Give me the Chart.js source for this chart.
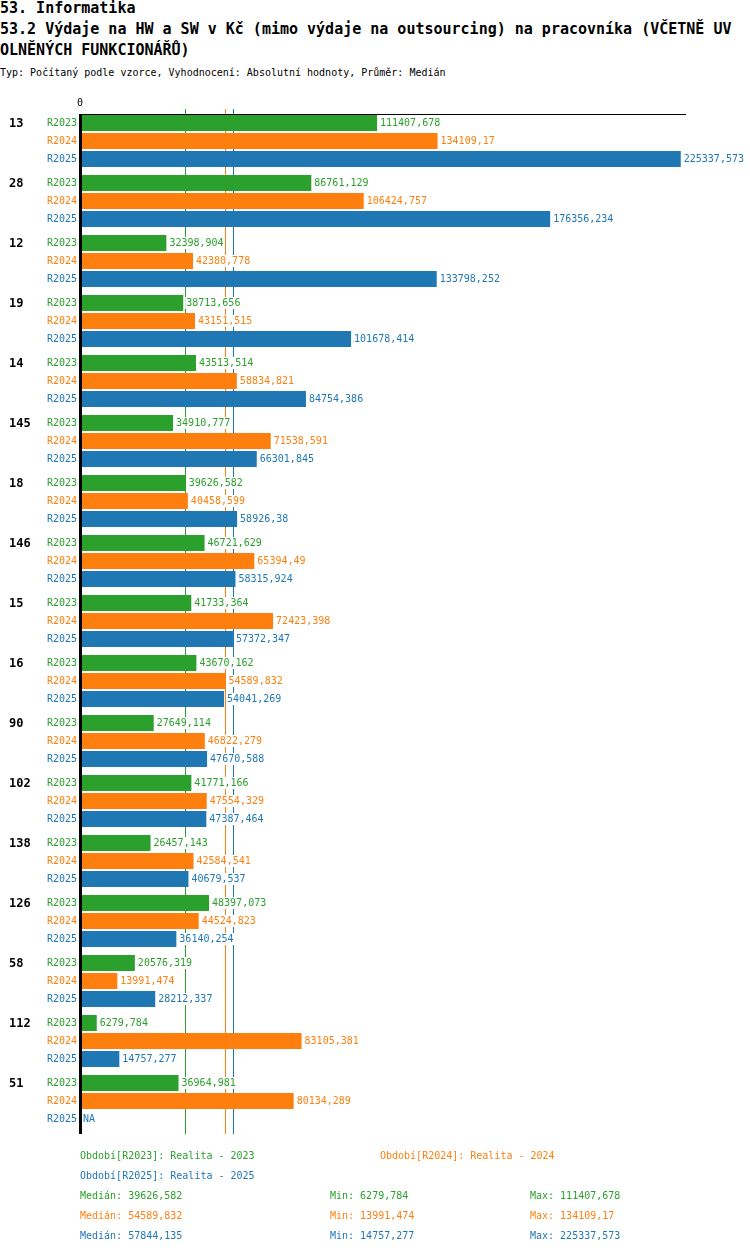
<!DOCTYPE html>
<html>
<head>
<meta charset="utf-8">
<script src="https://cdn.jsdelivr.net/npm/chart.js@4.4.1/dist/chart.umd.min.js"></script>
<style>
  html, body { margin: 0; padding: 0; background: #fff; }
  body { width: 750px; height: 1254px; position: relative; overflow: hidden; font-family: "DejaVu Sans Mono", monospace; color: #000; }
  #graf { position: absolute; left: 0; top: 0; }
  .titre { position: absolute; left: 0; font-size: 15px; font-weight: bold; line-height: 21px; white-space: pre; }
  .sous { position: absolute; left: 0; top: 67px; font-size: 10px; line-height: 12px; white-space: pre; }
  .pied { position: absolute; font-size: 10px; line-height: 12px; white-space: pre; }
</style>
</head>
<body>
<div class="titre" style="top:-2px">53. Informatika</div>
<div class="titre" style="top:19px">53.2 Výdaje na HW a SW v Kč (mimo výdaje na outsourcing) na pracovníka (VČETNĚ UV</div>
<div class="titre" style="top:40px">OLNĚNÝCH FUNKCIONÁŘŮ)</div>
<div class="sous">Typ: Počítaný podle vzorce, Vyhodnocení: Absolutní hodnoty, Průměr: Medián</div>
<canvas id="graf" width="750" height="1254"></canvas>
<div id="pied"></div>
<script>
// Données
const groupes = ['13', '28', '12', '19', '14', '145', '18', '146', '15', '16', '90', '102', '138', '126', '58', '112', '51'];
const series = ['R2023', 'R2024', 'R2025'];
const periodes = ['Realita - 2023', 'Realita - 2024', 'Realita - 2025'];
const couleurs = ['#2ca02c', '#ff7f0e', '#1f77b4'];

const r2023 = [111407.678, 86761.129, 32398.904, 38713.656, 43513.514, 34910.777, 39626.582, 46721.629, 41733.364, 43670.162, 27649.114, 41771.166, 26457.143, 48397.073, 20576.319, 6279.784, 36964.981];
const r2024 = [134109.17, 106424.757, 42380.778, 43151.515, 58834.821, 71538.591, 40458.599, 65394.49, 72423.398, 54589.832, 46822.279, 47554.329, 42584.541, 44524.823, 13991.474, 83105.381, 80134.289];
const r2025 = [225337.573, 176356.234, 133798.252, 101678.414, 84754.386, 66301.845, 58926.38, 58315.924, 57372.347, 54041.269, 47670.588, 47387.464, 40679.537, 36140.254, 28212.337, 14757.277, null];

const medianes = [39626.582, 54589.832, 57844.135];
const minima = [6279.784, 13991.474, 14757.277];
const maxima = [111407.678, 134109.17, 225337.573];

const axeMax = 227300;
const police = '"DejaVu Sans Mono", monospace';

function formatNombre(v) {
  if (v === null || v === undefined) return 'NA';
  return String(v).replace('.', ',');
}

// Lignes des médianes, axes et étiquettes
const decor = {
  id: 'decor',
  beforeDatasetsDraw(chart) {
    const { ctx, chartArea, scales: { x } } = chart;
    ctx.save();
    ctx.lineWidth = 1;
    medianes.forEach((m, i) => {
      const px = Math.round(x.getPixelForValue(m)) - 0.5;
      ctx.strokeStyle = couleurs[i];
      ctx.beginPath();
      ctx.moveTo(px, chartArea.top - 2);
      ctx.lineTo(px, chartArea.bottom + 3);
      ctx.stroke();
    });
    ctx.restore();
  },
  afterDatasetsDraw(chart) {
    const { ctx, chartArea, scales: { x } } = chart;
    const zero = x.getPixelForValue(0);
    ctx.save();

    // axe du haut et axe de gauche
    ctx.fillStyle = '#000';
    ctx.fillRect(zero, chartArea.top + 3, chartArea.right - zero, 1);
    ctx.fillRect(zero - 1, chartArea.top + 3, 3, chartArea.bottom - chartArea.top);

    ctx.font = '10px ' + police;
    ctx.textBaseline = 'middle';
    ctx.textAlign = 'center';
    ctx.fillText('0', zero, chartArea.top - 8);

    const donnees = chart.data.datasets;
    donnees.forEach((ds, i) => {
      const meta = chart.getDatasetMeta(i);
      meta.data.forEach((el, j) => {
        const v = ds.data[j];
        const y = el.y;
        // libellé de la série à gauche
        ctx.font = '10px ' + police;
        ctx.textAlign = 'right';
        ctx.fillStyle = couleurs[i];
        ctx.fillText(series[i], zero - 3, y + 0.5);
        // valeur au bout de la barre
        const fin = (v === null) ? zero : x.getPixelForValue(v);
        const txt = formatNombre(v);
        const w = ctx.measureText(txt).width;
        ctx.textAlign = 'left';
        ctx.fillStyle = '#fff';
        ctx.fillRect(fin + 2, y - 6, w + 2, 12);
        ctx.fillStyle = couleurs[i];
        ctx.fillText(txt, fin + 3, y + 0.5);
        // numéro du groupe
        if (i === 0) {
          ctx.font = 'bold 12px ' + police;
          ctx.fillStyle = '#000';
          ctx.fillText(groupes[j], 9, y + 0.5);
        }
      });
    });
    ctx.restore();
  }
};

const ctx = document.getElementById('graf').getContext('2d');
new Chart(ctx, {
  type: 'bar',
  data: {
    labels: groupes,
    datasets: [
      { label: series[0], data: r2023, backgroundColor: couleurs[0] },
      { label: series[1], data: r2024, backgroundColor: couleurs[1] },
      { label: series[2], data: r2025, backgroundColor: couleurs[2] }
    ]
  },
  options: {
    indexAxis: 'y',
    responsive: false,
    animation: false,
    devicePixelRatio: 1,
    categoryPercentage: 0.9,
    barPercentage: 16 / 18,
    layout: { padding: { left: 80, right: 64, top: 111, bottom: 123 } },
    plugins: {
      legend: { display: false },
      tooltip: { enabled: false }
    },
    scales: {
      x: { display: false, min: 0, max: axeMax },
      y: { display: false }
    }
  },
  plugins: [decor]
});

// Légende et statistiques en bas
const pied = document.getElementById('pied');
function ajouter(txt, x, y, couleur) {
  const d = document.createElement('div');
  d.className = 'pied';
  d.style.left = x + 'px';
  d.style.top = (y - 6) + 'px';
  d.style.color = couleur;
  d.textContent = txt;
  pied.appendChild(d);
}
ajouter('Období[' + series[0] + ']: ' + periodes[0], 80, 1156, couleurs[0]);
ajouter('Období[' + series[1] + ']: ' + periodes[1], 380, 1156, couleurs[1]);
ajouter('Období[' + series[2] + ']: ' + periodes[2], 80, 1176, couleurs[2]);
series.forEach((s, i) => {
  const y = 1196 + i * 20;
  ajouter('Medián: ' + formatNombre(medianes[i]), 80, y, couleurs[i]);
  ajouter('Min: ' + formatNombre(minima[i]), 330, y, couleurs[i]);
  ajouter('Max: ' + formatNombre(maxima[i]), 530, y, couleurs[i]);
});
</script>
</body>
</html>
